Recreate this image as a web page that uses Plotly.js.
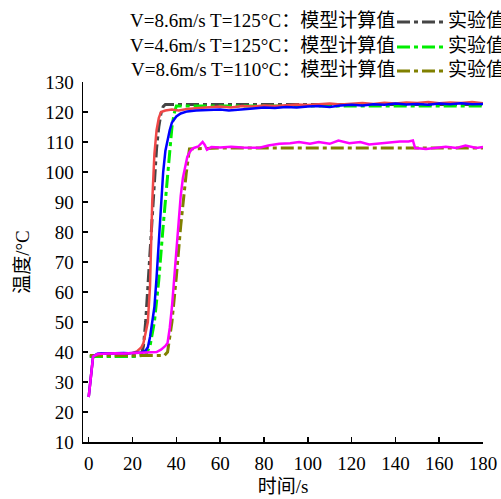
<!DOCTYPE html>
<html><head><meta charset="utf-8">
<script src="https://cdn.plot.ly/plotly-3.0.1.min.js"></script>
<style>html,body{margin:0;padding:0;background:#fff}#chart{width:501px;height:499px}</style>
</head><body><div id="chart"></div>
<script>
// Model (calculated) curves
const modelA_t = [0.5, 10, 20, 24, 25, 26, 27, 28, 29, 30, 31, 32, 33, 34, 35, 60, 100, 140, 180];
const modelA_v = [38.5, 38.5, 38.5, 39, 42, 50, 62, 75, 88, 99, 108, 115, 119.5, 121.8, 122.5, 122.5, 122.5, 122.5, 122.5];
const modelB_t = [0.5, 10, 20, 26, 28, 30, 32, 34, 36, 37, 38, 39, 40, 60, 100, 140, 180];
const modelB_v = [38.5, 38.5, 38.5, 39, 42, 50, 64, 82, 99, 108, 115, 119.5, 122, 122, 122, 122, 122];
const modelC_t = [0.5, 10, 20, 30, 34.5, 36, 38, 40, 42, 44.5, 46, 60, 100, 140, 180];
const modelC_v = [38.8, 38.8, 38.8, 38.8, 38.8, 40, 50, 65, 82, 99.4, 107.7, 108, 108, 108, 108];

// Experimental curves
const expA_t = [0, 1, 2, 4, 6, 8, 10, 12, 14, 16, 18, 20, 22, 24, 25, 26, 27, 28, 29, 30, 31, 32, 33, 35, 38, 41, 45, 50, 55, 60, 65, 70, 75, 80, 85, 90, 95, 100, 105, 110, 115, 120, 125, 130, 135, 140, 145, 150, 155, 160, 165, 170, 175, 180];
const expA_v = [25, 33, 38.5, 39.3, 39.5, 39.6, 39.5, 39.6, 39.5, 39.6, 39.5, 39.7, 40.2, 41.5, 43, 46, 50, 62, 90, 106, 114, 118, 120, 120.5, 120.8, 120.5, 121, 121.3, 121.5, 121.8, 121.5, 122, 121.8, 122.2, 122, 122.3, 122.5, 122.3, 122.6, 122.8, 122.5, 122.8, 123, 122.7, 123.1, 122.8, 123.2, 123, 123.3, 122.9, 123.2, 123, 123.3, 122.9];
const expB_t = [0, 1, 2, 4, 6, 8, 10, 12, 14, 16, 18, 20, 22, 24, 26, 27, 28, 29, 30, 31, 32, 33, 34, 35, 36, 37, 38, 40, 42, 45, 49, 55, 60, 64, 70, 75, 80, 85, 90, 95, 100, 105, 110, 115, 120, 125, 130, 135, 140, 145, 150, 155, 160, 165, 170, 175, 180];
const expB_v = [25, 33, 38.5, 39.4, 39.6, 39.5, 39.6, 39.7, 39.6, 39.7, 39.6, 39.7, 39.8, 39.8, 40.5, 41.6, 45, 50, 55, 65, 78, 90, 100, 107, 111, 114, 116.5, 118.5, 119.5, 120.2, 120.5, 120.6, 120.8, 120.5, 121, 121.2, 121.5, 121.3, 121.7, 121.5, 121.8, 122, 121.7, 122.2, 122.4, 122.2, 122.6, 122.4, 122.8, 122.5, 122.7, 122.4, 122.8, 122.6, 122.9, 122.6, 122.7];
const expC_t = [0, 1, 2, 4, 8, 12, 16, 20, 24, 28, 30, 31, 33, 35, 36, 37, 38, 39, 40, 41, 42, 43, 44, 45, 46, 47, 48, 50, 52, 53, 54, 56, 60, 65, 70, 75, 78, 82, 87, 92, 96, 101, 105, 110, 114, 119, 124, 128, 133, 137, 142, 146, 148, 149, 154, 158, 163, 168, 172, 177, 180];
const expC_v = [25, 33, 38.5, 39.3, 39.5, 39.6, 39.5, 39.6, 39.6, 39.7, 39.8, 40, 40.8, 42, 43, 48, 55, 65, 75, 84, 92, 98, 102, 105, 106.5, 107.5, 108, 108.5, 110, 109, 107.4, 108.3, 108.2, 108.4, 108.2, 108, 108.1, 108.8, 109.4, 109.6, 110, 109.4, 110, 109.4, 110.5, 109.6, 110, 109.2, 109.6, 110, 110.2, 110.2, 110.5, 108, 107.7, 108, 108.4, 108, 108.8, 108, 108.3];

const legendLabels = ["V=8.6m/s T=125°C：模型计算值", "V=4.6m/s T=125°C：模型计算值", "V=8.6m/s T=110°C：模型计算值"];
const expLabel = "实验值";
const xTicks = [0, 20, 40, 60, 80, 100, 120, 140, 160, 180];
const yTicks = [10, 20, 30, 40, 50, 60, 70, 80, 90, 100, 110, 120, 130];

const FONT = "Liberation Serif, Times New Roman, Noto Sans CJK SC, serif";
const DASH = "13px,4px,4px,4px";
const cols = {gray: "#454545", green: "#00ee00", olive: "#808000", red: "#f04848", blue: "#0000ff", mag: "#ff00ff"};

const traces = [
  {x: modelA_t, y: modelA_v, mode: "lines", line: {color: cols.gray, width: 3, dash: DASH}},
  {x: modelB_t, y: modelB_v, mode: "lines", line: {color: cols.green, width: 3, dash: DASH}},
  {x: modelC_t, y: modelC_v, mode: "lines", line: {color: cols.olive, width: 3, dash: DASH}},
  {x: expA_t, y: expA_v, mode: "lines", line: {color: cols.red, width: 2.5}},
  {x: expB_t, y: expB_v, mode: "lines", line: {color: cols.blue, width: 2.5}},
  {x: expC_t, y: expC_v, mode: "lines", line: {color: cols.mag, width: 2.5}}
].map(t => Object.assign(t, {showlegend: false, hoverinfo: "skip"}));

const W = 501, H = 499;
const M = {l: 83, r: 18, t: 82, b: 57};
const PW = W - M.l - M.r, PH = H - M.t - M.b;
// convert page pixels to paper coordinates (paper spans the plot area)
const px = v => (v - M.l) / PW, py = v => (H - M.b - v) / PH;
const rowsY = [21, 46, 70];
const legCols = [cols.gray, cols.green, cols.olive];
const annotations = [];
const shapes = [];
rowsY.forEach((y, i) => {
  annotations.push({xref: "paper", yref: "paper", x: px(397), y: py(y), xanchor: "right", yanchor: "middle",
    text: legendLabels[i], showarrow: false, font: {family: FONT, size: 19, color: "#000"}});
  annotations.push({xref: "paper", yref: "paper", x: px(446), y: py(y), xanchor: "left", yanchor: "middle",
    text: expLabel, showarrow: false, font: {family: FONT, size: 19, color: "#000"}});
  shapes.push({type: "line", xref: "paper", yref: "paper", x0: px(397), x1: px(443), y0: py(y + 1), y1: py(y + 1),
    line: {color: legCols[i], width: 3, dash: DASH}});
});

const layout = {
  width: W, height: H,
  margin: M,
  paper_bgcolor: "#fff", plot_bgcolor: "#fff",
  font: {family: FONT, size: 19, color: "#000"},
  xaxis: {range: [-2.6, 180], tickvals: xTicks, ticktext: xTicks.map(String), ticks: "inside", ticklen: 5, tickwidth: 1.5,
    tickcolor: "#000", showline: true, linecolor: "#000", linewidth: 1.5, showgrid: false, zeroline: false,
    ticklabelstandoff: 4,
    title: {text: "时间/s", font: {family: FONT, size: 19}, standoff: 6}},
  yaxis: {range: [10, 130], tickvals: yTicks, ticktext: yTicks.map(String), ticks: "inside", ticklen: 5, tickwidth: 1.5,
    tickcolor: "#000", showline: true, linecolor: "#000", linewidth: 1.5, showgrid: false, zeroline: false,
    ticklabelstandoff: 4,
    title: {text: "温度/°C", font: {family: FONT, size: 19}, standoff: 10}},
  annotations: annotations,
  shapes: shapes
};
Plotly.newPlot("chart", traces, layout, {staticPlot: true, displayModeBar: false});
</script></body></html>
